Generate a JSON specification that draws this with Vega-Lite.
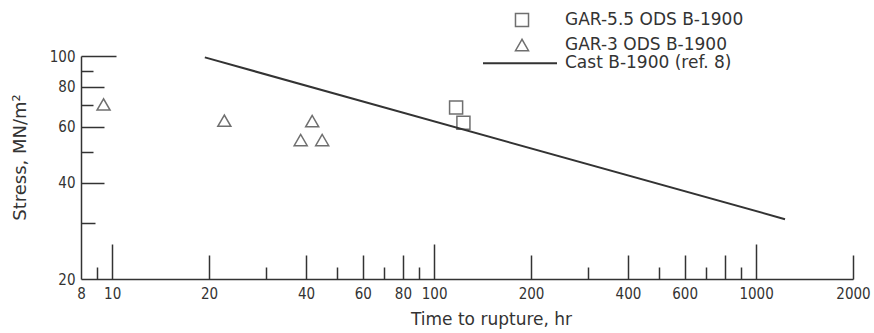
{
  "$schema": "https://vega.github.io/schema/vega-lite/v6.json",
  "width": 772,
  "height": 223,
  "autosize": "none",
  "padding": {"left": 81, "top": 56, "right": 21, "bottom": 54},
  "background": "white",
  "config": {
    "view": {"stroke": null},
    "font": "DejaVu Sans",
    "axis": {
      "grid": false,
      "domainColor": "#333",
      "domainWidth": 1.5,
      "tickColor": "#333",
      "tickWidth": 1.5,
      "labelColor": "#333",
      "titleColor": "#333",
      "titleFontWeight": "normal",
      "labelFontSize": 15,
      "titleFontSize": 17,
      "labelFont": "DejaVu Sans Condensed, DejaVu Sans",
      "titleFont": "DejaVu Sans"
    },
    "legend": {
      "labelFont": "DejaVu Sans",
      "labelFontSize": 17,
      "labelColor": "#333",
      "labelLimit": 400,
      "padding": 0
    }
  },
  "datasets": {
    "points": [
      {"series": "GAR-3 ODS B-1900", "hours": 9.4, "stress": 70.5},
      {"series": "GAR-3 ODS B-1900", "hours": 22.3, "stress": 62.7},
      {"series": "GAR-3 ODS B-1900", "hours": 41.8, "stress": 62.5},
      {"series": "GAR-3 ODS B-1900", "hours": 38.5, "stress": 54.5},
      {"series": "GAR-3 ODS B-1900", "hours": 44.9, "stress": 54.5},
      {"series": "GAR-5.5 ODS B-1900", "hours": 117, "stress": 69},
      {"series": "GAR-5.5 ODS B-1900", "hours": 123.3, "stress": 61.8}
    ],
    "line": [
      {"series": "Cast B-1900 (ref. 8)", "hours": 19.4, "stress": 99},
      {"series": "Cast B-1900 (ref. 8)", "hours": 1230, "stress": 30.8}
    ]
  },
  "layer": [
    {
      "data": {"name": "points"},
      "mark": {"type": "point", "filled": false, "stroke": "#333", "strokeWidth": 1.5, "size": 170},
      "encoding": {
        "x": {
          "field": "hours", "type": "quantitative",
          "scale": {"type": "log", "domain": [8, 2000], "nice": false},
          "axis": {
            "orient": "bottom",
            "values": [8, 10, 20, 40, 60, 80, 100, 200, 400, 600, 1000, 2000],
            "format": "d",
            "ticks": false,
            "labelPadding": 7,
            "labelFlush": false,
            "labelOverlap": false,
            "title": "Time to rupture, hr",
            "titleX": 410,
            "titlePadding": 10
          }
        },
        "y": {
          "field": "stress", "type": "quantitative",
          "scale": {"type": "log", "domain": [20, 100], "nice": false},
          "axis": {
            "orient": "left",
            "values": [20, 40, 60, 80, 100],
            "format": "d",
            "ticks": false,
            "labelPadding": 6,
            "labelFlush": false,
            "labelOverlap": false,
            "title": "Stress, MN/m²",
            "titleFontSize": 18,
            "titleY": 101,
            "titlePadding": 20
          }
        },
        "shape": {
          "field": "series", "type": "nominal",
          "scale": {"domain": ["GAR-5.5 ODS B-1900", "GAR-3 ODS B-1900"], "range": ["square", "triangle-up"]},
          "legend": {
            "title": null,
            "orient": "none",
            "legendX": 432.5,
            "legendY": -44.5,
            "symbolSize": 170,
            "symbolStrokeColor": "#333",
            "symbolFillColor": "transparent",
            "symbolStrokeWidth": 1.5,
            "labelOffset": 34.5,
            "rowPadding": 5
          }
        }
      }
    },
    {
      "data": {"name": "line"},
      "mark": {"type": "line", "strokeWidth": 2},
      "encoding": {
        "x": {
          "field": "hours", "type": "quantitative",
          "scale": {"type": "log", "domain": [8, 2000], "nice": false},
          "axis": {
            "orient": "top",
            "offset": -223,
            "values": [9, 10, 20, 30, 40, 50, 60, 70, 80, 90, 100, 200, 300, 400, 500, 600, 700, 800, 900, 1000, 2000],
            "labels": false,
            "domain": false,
            "title": null,
            "tickSize": {
              "condition": [
                {"test": "datum.value == 10 || datum.value == 100 || datum.value == 1000", "value": 35},
                {"test": "datum.value == 9 || datum.value == 30 || datum.value == 50 || datum.value == 70 || datum.value == 90 || datum.value == 300 || datum.value == 500 || datum.value == 700 || datum.value == 900", "value": 12}
              ],
              "value": 24
            }
          }
        },
        "y": {
          "field": "stress", "type": "quantitative",
          "scale": {"type": "log", "domain": [20, 100], "nice": false},
          "axis": {
            "orient": "right",
            "offset": -772,
            "values": [30, 40, 50, 60, 70, 80, 90, 100],
            "labels": false,
            "domain": false,
            "title": null,
            "tickSize": {
              "condition": [
                {"test": "datum.value == 100", "value": 35},
                {"test": "datum.value == 40 || datum.value == 60 || datum.value == 80", "value": 23},
                {"test": "datum.value == 30", "value": 14}
              ],
              "value": 12
            }
          }
        },
        "color": {
          "field": "series", "type": "nominal",
          "scale": {"range": ["#333"]},
          "legend": {
            "title": null,
            "orient": "none",
            "legendX": 401,
            "legendY": -30.7,
            "symbolType": "stroke",
            "symbolSize": 5476,
            "symbolStrokeWidth": 2,
            "labelOffset": 7
          }
        }
      }
    }
  ],
  "resolve": {"axis": {"x": "independent", "y": "independent"}}
}
